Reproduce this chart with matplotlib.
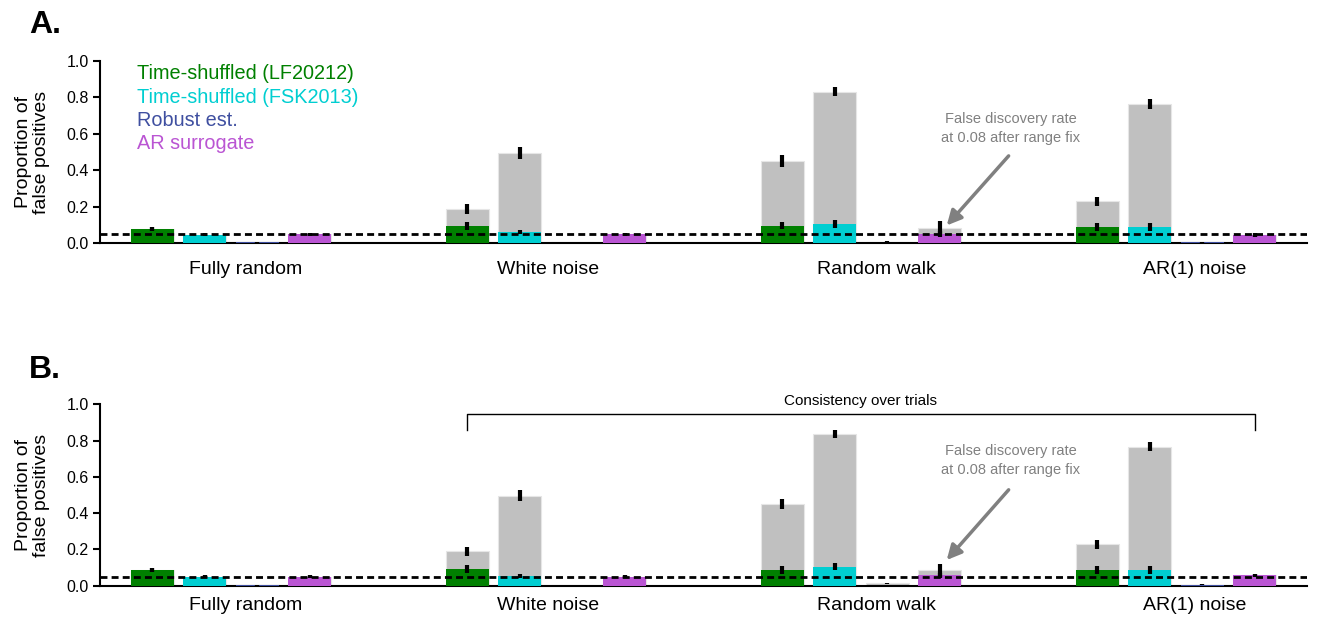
import numpy as np
import matplotlib
matplotlib.use("Agg")
import matplotlib.pyplot as plt

plt.rcParams["font.family"] = ["Liberation Sans", "DejaVu Sans"]

categories = ["Fully random", "White noise", "Random walk", "AR(1) noise"]
methods = ["Time-shuffled (LF20212)", "Time-shuffled (FSK2013)", "Robust est.", "AR surrogate"]

# panel A: total (grey) and after range fix (coloured), with error half-widths
total_a = [
    [0.078, 0.188, 0.452, 0.229],
    [0.045, 0.496, 0.831, 0.762],
    [0.003, 0.003, 0.007, 0.003],
    [0.048, 0.048, 0.085, 0.044],
]
fixed_a = [
    [0.078, 0.093, 0.095, 0.088],
    [0.045, 0.062, 0.104, 0.088],
    [0.003, 0.002, 0.001, 0.003],
    [0.048, 0.048, 0.050, 0.044],
]
total_err_a = [
    [0.010, 0.027, 0.032, 0.026],
    [0.008, 0.033, 0.024, 0.027],
    [0.003, 0.003, 0.004, 0.003],
    [0.007, 0.008, 0.035, 0.010],
]
fixed_err_a = [
    [0.010, 0.020, 0.020, 0.020],
    [0.008, 0.012, 0.020, 0.020],
    [0.003, 0.003, 0.003, 0.003],
    [0.007, 0.008, 0.015, 0.010],
]

# panel B
total_b = [
    [0.086, 0.190, 0.450, 0.228],
    [0.050, 0.496, 0.836, 0.767],
    [0.002, 0.002, 0.013, 0.005],
    [0.050, 0.050, 0.085, 0.057],
]
fixed_b = [
    [0.086, 0.092, 0.086, 0.086],
    [0.050, 0.053, 0.105, 0.086],
    [0.002, 0.001, 0.001, 0.005],
    [0.050, 0.050, 0.057, 0.057],
]
total_err_b = [
    [0.012, 0.025, 0.030, 0.026],
    [0.010, 0.030, 0.022, 0.027],
    [0.003, 0.003, 0.004, 0.003],
    [0.008, 0.008, 0.035, 0.010],
]
fixed_err_b = [
    [0.012, 0.020, 0.020, 0.020],
    [0.010, 0.012, 0.020, 0.020],
    [0.003, 0.003, 0.003, 0.003],
    [0.008, 0.008, 0.015, 0.008],
]

threshold = 0.05
fdr_note = "False discovery rate\nat 0.08 after range fix"

c_grey = "#c0c0c0"
colors = ["#008000", "#00ced1", "#3f4fa0", "#ba55d3"]
label_x = [1.78, 7.53, 13.8, 19.86]


def draw_panel(ax, total, fixed, total_err, fixed_err, xpad):
    for m in range(len(methods)):
        x = np.arange(len(categories)) * 6 + m
        ax.bar(x, total[m], width=0.82, color=c_grey, edgecolor="#e6e6e6", linewidth=0.8, zorder=2)
        ax.bar(x, fixed[m], width=0.82, color=colors[m], zorder=3)
        ax.errorbar(x, total[m], yerr=total_err[m], fmt="none", ecolor="black", elinewidth=3, capsize=0, zorder=5)
        ax.errorbar(x, fixed[m], yerr=fixed_err[m], fmt="none", ecolor="black", elinewidth=3, capsize=0, zorder=5)

    ax.axhline(threshold, color="black", ls=(0, (2.5, 1.5)), lw=2, zorder=6)
    ax.set_xlim(-1.0, 22.0)
    ax.set_ylim(0, 1.0)
    ax.set_yticks([0.0, 0.2, 0.4, 0.6, 0.8, 1.0])
    ax.set_yticklabels(["0.0", "0.2", "0.4", "0.6", "0.8", "1.0"])
    ax.set_xticks(label_x)
    ax.set_xticklabels(categories, fontsize=14)
    ax.tick_params(axis="x", length=0, pad=xpad)
    ax.tick_params(axis="y", length=5, width=1.5, labelsize=11.5, pad=3)
    for s in ["top", "right"]:
        ax.spines[s].set_visible(False)
    ax.spines["left"].set_linewidth(1.5)
    ax.spines["bottom"].set_linewidth(1.5)
    ax.set_ylabel("Proportion of\nfalse positives", fontsize=14, labelpad=12, linespacing=1.05)
    return ax


fig = plt.figure(figsize=(13.17, 6.19), dpi=100)
ax1 = fig.add_axes([0.0759, 0.6074, 0.9165, 0.2941])
ax2 = fig.add_axes([0.0759, 0.0538, 0.9165, 0.2931])

ax1 = draw_panel(ax1, total_a, fixed_a, total_err_a, fixed_err_a, 13)
ax2 = draw_panel(ax2, total_b, fixed_b, total_err_b, fixed_err_b, 8)

# legend as coloured text
for i, name in enumerate(methods):
    ax1.text(-0.3, 0.93 - i * 0.128, name, color=colors[i], fontsize=14.3, va="center", ha="left")

# false discovery annotations
ax1.text(16.35, 0.63, fdr_note, color="#808080", fontsize=10.5, ha="center", va="center", linespacing=1.4)
ax1.annotate("", xy=(15.1, 0.085), xytext=(16.35, 0.49),
             arrowprops=dict(arrowstyle="-|>", color="#808080", lw=2.5, mutation_scale=22))
ax2.text(16.35, 0.69, fdr_note, color="#808080", fontsize=10.5, ha="center", va="center", linespacing=1.4)
ax2.annotate("", xy=(15.1, 0.13), xytext=(16.35, 0.54),
             arrowprops=dict(arrowstyle="-|>", color="#808080", lw=2.5, mutation_scale=22))

# consistency bracket
ax2.plot([6, 6, 21, 21], [0.86, 0.947, 0.947, 0.86], color="black", lw=1, clip_on=False)
ax2.text(13.5, 1.02, "Consistency over trials", fontsize=11, ha="center", va="center", clip_on=False)

fig.text(0.022, 0.96, "A.", fontsize=23, weight="bold", va="center", ha="left")
fig.text(0.022, 0.403, "B.", fontsize=23, weight="bold", va="center", ha="left")

plt.savefig("out.png", dpi=100)
